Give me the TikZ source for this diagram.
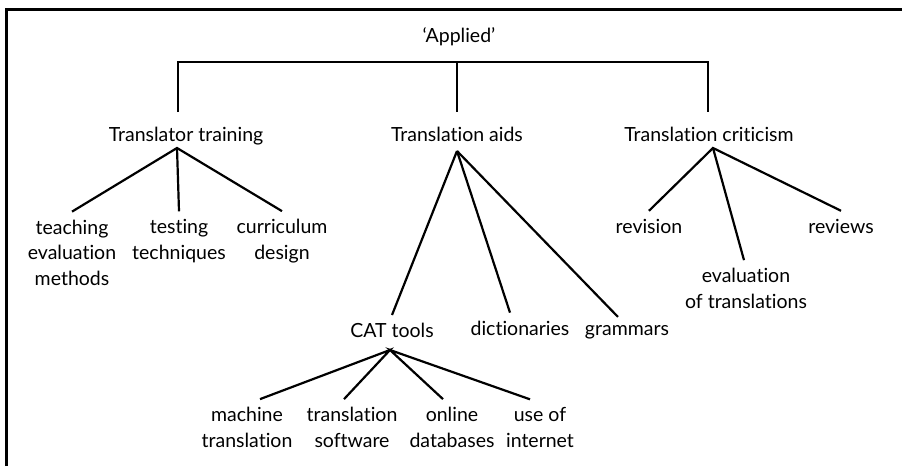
\documentclass[tikz,border=0pt]{standalone}
\usepackage{fontspec}
\setmainfont{Lato}[Ligatures={NoCommon}]
\usetikzlibrary{calc}
\begin{document}
\begin{tikzpicture}[x=1pt,y=-1pt,
  lbl/.style={font=\fontsize{19.5}{25.5}\selectfont, align=center, inner sep=0pt, anchor=base},
  l1/.style={lbl, text height=14pt, text depth=5pt, outer ysep=2pt},
  kid/.style={lbl, outer ysep=8pt},
  br/.style={line width=2.2pt, line cap=butt, line join=miter}]
\useasboundingbox (0,0) rectangle (902,466);
\draw[line width=3pt] (6,466) -- (6,9) -- (902,9);
\coordinate (barY) at (0,62);
% level 0 / 1
\node[lbl] (ap) at (459,42) {‘Applied’};
\node[l1] (tt) at (186,141) {Translator training};
\node[l1] (ta) at (457,141) {Translation aids};
\node[l1] (tc) at (709,141) {Translation criticism};
\draw[br] ([xshift=-8pt,yshift=13pt]tt.north) -- ([xshift=-8pt]tt.north |- barY) -- ([xshift=-1pt]tc.north |- barY) -- ([xshift=-1pt,yshift=13pt]tc.north);
\draw[br] (ta.north |- barY) -- ([yshift=13pt]ta.north);
% translator training (base = last line)
\node[kid] (te) at (72,285) {teaching\\evaluation\\methods};
\node[kid] (ts) at (179,259) {testing\\techniques};
\node[kid] (cd) at (282,259) {curriculum\\design};
\draw[br] (te.north) -- ([xshift=-9pt]tt.south) -- (cd.north);
\draw[br] ([xshift=-9pt]tt.south) -- (ts.north);
% translation criticism
\node[kid] (rv) at (649,233) {revision};
\node[kid] (ev) at (746,308) {evaluation\\of translations};
\node[kid] (rw) at (841,233) {reviews};
\draw[br] (rv.north) -- ([xshift=4pt]tc.south) -- (rw.north);
\draw[br] ([xshift=4pt]tc.south) -- ([xshift=-2pt]ev.north);
% translation aids
\node[lbl, text height=14pt, text depth=5pt, outer ysep=8pt] (cat) at (392,337) {CAT tools};
\node[kid] (di) at (520,335) {dictionaries};
\node[kid] (gr) at (627,335) {grammars};
\draw[br] ([yshift=-3pt]ta.south) -- (cat.north);
\draw[br] ([yshift=-3pt]ta.south) -- ([xshift=-10pt]di.north);
\draw[br] ([yshift=-3pt]ta.south) -- ([xshift=-9pt]gr.north);
% CAT tools
\node[kid] (mt) at (247,447) {machine\\translation};
\node[kid] (tw) at (352,447) {translation\\software};
\node[kid] (od) at (452,447) {online\\databases};
\node[kid] (ui) at (540,447) {use of\\internet};
\draw[br] ([xshift=13pt]mt.north) -- ([xshift=-2pt]cat.south) -- ([xshift=-8pt]tw.north);
\draw[br] ([xshift=-9pt]od.north) -- ([xshift=-2pt]cat.south) -- ([xshift=-10pt]ui.north);
\end{tikzpicture}
\end{document}
